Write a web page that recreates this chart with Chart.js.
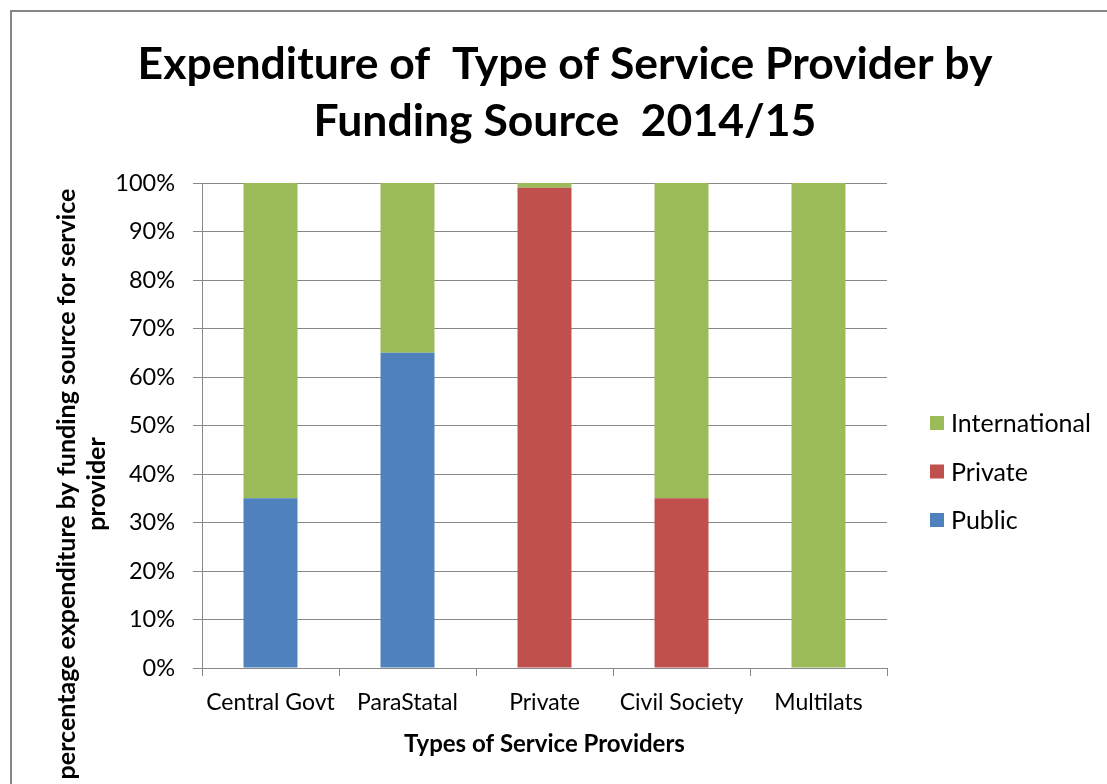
<!DOCTYPE html>
<html lang="en">
<head>
<meta charset="UTF-8">
<title>Expenditure of Type of Service Provider by Funding Source 2014/15</title>
<script src="https://cdn.jsdelivr.net/npm/chart.js"></script>
<style>
  html, body { margin: 0; padding: 0; background: #fff; overflow: hidden; }
  #wrap { position: relative; width: 1107px; height: 784px; }
</style>
</head>
<body>
<div id="wrap"><canvas id="chart" width="1107" height="784"></canvas></div>
<script>
// share of each provider's spend by funding source (%)
const categories = ['Central Govt', 'ParaStatal', 'Private', 'Civil Society', 'Multilats'];
const publicShare = [35, 65, 0, 0, 0];
const privateShare = [0, 0, 99, 35, 0];
const internationalShare = [65, 35, 1, 65, 100];

const titleLines = ['Expenditure of  Type of Service Provider by', 'Funding Source  2014/15'];
const yTitleLines = ['percentage expenditure by funding source for service', 'provider'];
const xTitle = 'Types of Service Providers';

const FONT = 'Lato, "Open Sans", sans-serif';
const GRID = '#888888';

// title, y axis title, legend and the outer frame
const decorations = {
    id: 'decorations',
    beforeDraw(chart) {
        const ctx = chart.ctx;
        ctx.save();
        ctx.strokeStyle = '#868686';
        ctx.lineWidth = 2;
        ctx.strokeRect(11, 11, chart.width + 20, chart.height + 20);
        ctx.restore();
    },
    afterDraw(chart) {
        const ctx = chart.ctx;
        ctx.save();
        ctx.fillStyle = '#000';
        ctx.textAlign = 'center';
        ctx.textBaseline = 'middle';

        ctx.font = 'bold 44.5px ' + FONT;
        ctx.fillText(titleLines[0], 565, 65);
        ctx.fillText(titleLines[1], 565, 122);

        ctx.save();
        ctx.translate(67, 484);
        ctx.rotate(-Math.PI / 2);
        ctx.font = 'bold 25px ' + FONT;
        ctx.fillText(yTitleLines[0], 0, 0);
        ctx.fillText(yTitleLines[1], 0, 30);
        ctx.restore();

        // legend, top of stack first
        const items = chart.data.datasets.slice().reverse();
        ctx.font = '25px ' + FONT;
        ctx.textAlign = 'left';
        items.forEach((ds, i) => {
            const y = 423 + i * 48.5;
            ctx.fillStyle = ds.backgroundColor;
            ctx.fillRect(930, y - 7, 14, 14);
            ctx.fillStyle = '#000';
            ctx.fillText(ds.label, 951, y + 1);
        });
        ctx.restore();
    }
};

new Chart(document.getElementById('chart'), {
    type: 'bar',
    data: {
        labels: categories,
        datasets: [
            { label: 'Public', data: publicShare, backgroundColor: '#4F81BD' },
            { label: 'Private', data: privateShare, backgroundColor: '#C0504D' },
            { label: 'International', data: internationalShare, backgroundColor: '#9BBB59' }
        ]
    },
    options: {
        responsive: false,
        animation: false,
        layout: { padding: { top: 183, right: 220, left: 0, bottom: 0 } },
        datasets: { bar: { barPercentage: 0.394, categoryPercentage: 1, borderWidth: 0 } },
        plugins: {
            legend: { display: false },
            tooltip: { enabled: false }
        },
        scales: {
            x: {
                stacked: true,
                afterFit(scale) { scale.height = 116; },
                grid: { drawOnChartArea: false, drawTicks: true, tickLength: 8, color: GRID },
                border: { display: true, color: GRID },
                ticks: {
                    color: '#000',
                    font: { family: FONT, size: 23 },
                    padding: 13,
                    autoSkip: false,
                    maxRotation: 0
                },
                title: {
                    display: true,
                    text: xTitle,
                    color: '#000',
                    font: { family: FONT, size: 24, weight: 'bold' },
                    padding: { top: 0, bottom: 25 }
                }
            },
            y: {
                stacked: true,
                min: 0,
                max: 100,
                afterFit(scale) { scale.width = 202; },
                grid: { color: GRID, tickLength: 9 },
                border: { display: true, color: GRID },
                ticks: {
                    stepSize: 10,
                    color: '#000',
                    padding: 18,
                    font: { family: FONT, size: 23.5 },
                    callback: v => v + '%'
                }
            }
        }
    },
    plugins: [decorations]
});
</script>
</body>
</html>
